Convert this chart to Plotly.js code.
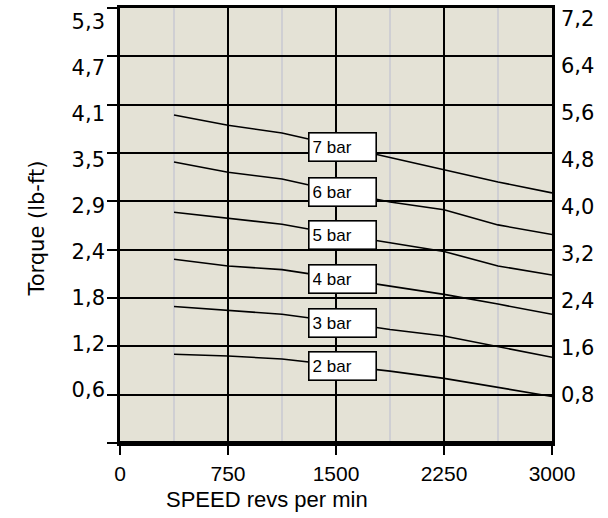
<!DOCTYPE html>
<html>
<head>
<meta charset="utf-8">
<script src="https://cdn.plot.ly/plotly-3.0.1.min.js"></script>
<style>html,body{margin:0;padding:0;background:#fff;}#chart{width:608px;height:518px;}</style>
</head>
<body>
<div id="chart"></div>
<script>
// ---- data (torque in N·m) ----
const speed = [375, 750, 1125, 1500, 1875, 2250, 2625, 3000];
const bar7 = [5.43, 5.26, 5.13, 4.93, 4.72, 4.53, 4.32, 4.14];
const bar6 = [4.65, 4.48, 4.37, 4.17, 3.99, 3.86, 3.61, 3.45];
const bar5 = [3.82, 3.72, 3.62, 3.46, 3.31, 3.17, 2.93, 2.78];
const bar4 = [3.04, 2.93, 2.87, 2.73, 2.59, 2.46, 2.30, 2.13];
const bar3 = [2.26, 2.19, 2.13, 2.01, 1.88, 1.77, 1.59, 1.42];
const bar2 = [1.47, 1.44, 1.39, 1.29, 1.19, 1.07, 0.92, 0.77];
const seriesNames = ['2 bar', '3 bar', '4 bar', '5 bar', '6 bar', '7 bar'];
const xTicks = [0, 750, 1500, 2250, 3000];
const nmTicks = [0.8, 1.6, 2.4, 3.2, 4.0, 4.8, 5.6, 6.4, 7.2];
const nmLabels = ['0,8', '1,6', '2,4', '3,2', '4,0', '4,8', '5,6', '6,4', '7,2'];
const lbftLabels = ['0,6', '1,2', '1,8', '2,4', '2,9', '3,5', '4,1', '4,7', '5,3'];
const xTitle = 'SPEED revs per min';
const yTitle = 'Torque (lb-ft)';

// ---- build ----
const allSeries = [bar2, bar3, bar4, bar5, bar6, bar7];
const traces = allSeries.map((s, i) => ({
  type: 'scatter', mode: 'lines', x: speed, y: s, name: seriesNames[i],
  line: {color: '#000', width: 1.6}, hoverinfo: 'skip', showlegend: false
}));
traces.push({type:'scatter', x:[null], y:[null], yaxis:'y2', showlegend:false, hoverinfo:'skip'});
traces.push({type:'scatter', x:[null], y:[null], yaxis:'y3', showlegend:false, hoverinfo:'skip'});

function interp(xs, ys, x) {
  for (let i = 0; i < xs.length - 1; i++) {
    if (x >= xs[i] && x <= xs[i+1]) {
      const t = (x - xs[i]) / (xs[i+1] - xs[i]);
      return ys[i] + t * (ys[i+1] - ys[i]);
    }
  }
  return ys[ys.length - 1];
}

const labelX = 1545;
const annotations = allSeries.map((s, i) => ({
  x: labelX, y: interp(speed, s, labelX), xref: 'x', yref: 'y',
  text: seriesNames[i], showarrow: false,
  bgcolor: '#fff', bordercolor: '#000', borderwidth: 1.6, borderpad: 3,
  width: 60, height: 21, align: 'left',
  font: {family: 'Liberation Sans, Arial, sans-serif', size: 17, color: '#000'}
}));
annotations.push({
  text: xTitle, xref: 'paper', yref: 'paper', x: 0.3414, y: -0.13,
  xanchor: 'center', yanchor: 'middle', showarrow: false,
  font: {family: 'Liberation Sans, Arial, sans-serif', size: 22, color: '#000'}
});
annotations.push({
  text: yTitle, xref: 'paper', yref: 'paper', x: -0.191, y: 0.494,
  xanchor: 'center', yanchor: 'middle', showarrow: false, textangle: -90,
  font: {family: 'DejaVu Sans, sans-serif', size: 21, color: '#000'}
});

const labelFont = {family: 'DejaVu Sans, sans-serif', size: 21, color: '#000'};

const layout = {
  width: 608, height: 518,
  margin: {l: 120, r: 56, t: 8, b: 75, pad: 0},
  paper_bgcolor: '#fff', plot_bgcolor: '#e4e2d6',
  showlegend: false,
  xaxis: {
    range: [0, 3000], tickvals: xTicks, ticktext: xTicks.map(String),
    ticks: 'outside', ticklen: 9, tickwidth: 2, tickcolor: '#000',
    showgrid: true, gridcolor: '#000', gridwidth: 2,
    showline: true, mirror: true, linewidth: 3, linecolor: '#000',
    zeroline: false, ticklabelstandoff: 1,
    tickfont: {family: 'Liberation Sans, Arial, sans-serif', size: 21, color: '#000'},
    minor: {dtick: 375, tick0: 0, showgrid: true, gridcolor: '#cfcfd3', gridwidth: 1.5, ticks: ''}
  },
  yaxis: {
    range: [0, 7.2], tickvals: [0].concat(nmTicks),
    ticks: 'outside', ticklen: 10, tickwidth: 2, tickcolor: '#000',
    showticklabels: false,
    showgrid: true, gridcolor: '#000', gridwidth: 2,
    showline: true, mirror: true, linewidth: 3, linecolor: '#000',
    zeroline: false
  },
  yaxis2: {
    overlaying: 'y', side: 'left', range: [-0.130, 7.435],
    tickvals: nmTicks, ticktext: lbftLabels, ticks: '',
    showgrid: false, zeroline: false, showline: false,
    tickfont: labelFont, ticklabelstandoff: 14
  },
  yaxis3: {
    overlaying: 'y', side: 'right', range: [-0.026, 7.385],
    tickvals: nmTicks, ticktext: nmLabels, ticks: '',
    showgrid: false, zeroline: false, showline: false,
    tickfont: labelFont, ticklabelstandoff: 8
  },
  shapes: [{
    type: 'line', xref: 'paper', yref: 'paper', x0: 0, x1: 1, y0: 0, y1: 0,
    line: {color: '#000', width: 4}
  }],
  annotations: annotations
};

Plotly.newPlot('chart', traces, layout, {staticPlot: true, displayModeBar: false});
</script>
</body>
</html>
